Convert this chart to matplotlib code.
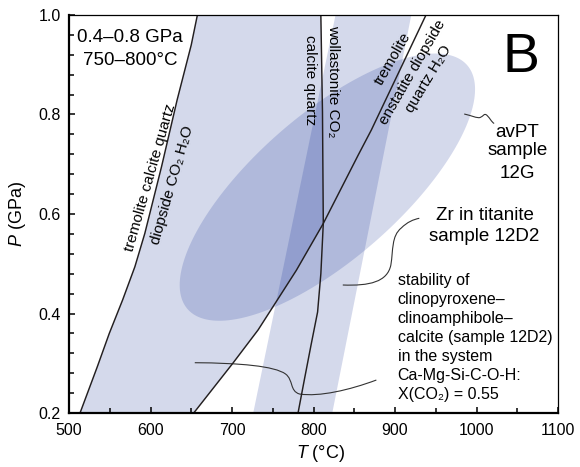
import numpy as np
import matplotlib
matplotlib.use("Agg")
import matplotlib.pyplot as plt
from matplotlib.path import Path
from matplotlib.patches import PathPatch, Polygon
from matplotlib.ticker import MultipleLocator, FixedLocator

plt.rcParams['font.family'] = ['Liberation Sans', 'DejaVu Sans']
plt.rcParams['mathtext.fontset'] = 'custom'
plt.rcParams['mathtext.it'] = 'Liberation Sans:italic'
plt.rcParams['mathtext.rm'] = 'Liberation Sans'

# reaction curves, T (°C) against P (GPa)
# tremolite + calcite + quartz = diopside + CO2 + H2O
tcq_T = [513.5, 534.7, 549.4, 565.7, 580.8, 593.0, 613.5, 632.6, 650.0, 657.5]
tcq_P = [0.200, 0.293, 0.360, 0.427, 0.494, 0.561, 0.695, 0.829, 0.940, 1.000]
# tremolite = enstatite + diopside + quartz + H2O
ten_T = [653, 701, 732, 779, 812, 855, 871, 909, 938]
ten_P = [0.200, 0.300, 0.367, 0.487, 0.581, 0.719, 0.769, 0.900, 1.000]
# calcite + quartz = wollastonite + CO2
wo_T = [781, 789, 797, 805, 809, 812, 811, 809]
wo_P = [0.200, 0.269, 0.337, 0.403, 0.480, 0.581, 0.805, 1.000]
P_cross = 0.581

# Zr-in-titanite band (sample 12D2): T limits at 0.2 and 1.0 GPa
zr_P = [0.2, 1.0]
zr_Tmin = [726, 827]
zr_Tmax = [823, 920]

# avPT result (sample 12G): centre and half-axis vectors (T, P)
avpt_c = (817.0, 0.654)
avpt_major = (171.6, 0.245)
avpt_minor = (-58.2, 0.110)

FILL = (0.0, 30 / 255, 142 / 255)
ALPHA = 0.17
LINE = '#231f20'

fig = plt.figure(figsize=(5.8, 4.67), dpi=100)
ax = fig.add_axes([0.119, 0.1156, 0.8431, 0.8523])
ax.set_xlim(500, 1100)
ax.set_ylim(0.2, 1.0)

# stability field of cpx-amphibole-calcite
left = list(zip(tcq_T, tcq_P))
right_top = [(t, p) for t, p in zip(wo_T, wo_P) if p >= P_cross][::-1]
right_low = [(t, p) for t, p in zip(ten_T, ten_P) if p <= P_cross][::-1]
field = left + right_top + right_low
ax.add_patch(Polygon(field, closed=True, facecolor=FILL, alpha=ALPHA, lw=0))

# Zr in titanite band
band = [(zr_Tmin[0], zr_P[0]), (zr_Tmax[0], zr_P[0]),
        (zr_Tmax[1], zr_P[1]), (zr_Tmin[1], zr_P[1])]
ax.add_patch(Polygon(band, closed=True, facecolor=FILL, alpha=ALPHA, lw=0))

# avPT ellipse
t = np.linspace(0, 2 * np.pi, 300)
eT = avpt_c[0] + np.cos(t) * avpt_major[0] + np.sin(t) * avpt_minor[0]
eP = avpt_c[1] + np.cos(t) * avpt_major[1] + np.sin(t) * avpt_minor[1]
ax.fill(eT, eP, color=FILL, alpha=ALPHA, lw=0)

# reaction lines
for T, P in [(tcq_T, tcq_P), (ten_T, ten_P), (wo_T, wo_P)]:
    ax.plot(T, P, color=LINE, lw=1.05, solid_joinstyle='round')

# leader lines (bezier)
def leader(pts):
    codes = [Path.MOVETO] + [Path.CURVE4] * (len(pts) - 1)
    ax.add_patch(PathPatch(Path(pts, codes), fill=False, ec='#333333', lw=0.8))

leader([(654.3, 0.3011), (709.4, 0.3005), (752.2, 0.2945), (765.7, 0.2784),
        (775.5, 0.2663), (770.6, 0.2442), (782.8, 0.2382),
        (807.3, 0.2322), (844.1, 0.2462), (877.1, 0.2663)])
leader([(835.9, 0.4573), (868.6, 0.4553), (890.6, 0.4633), (894.9, 0.4975),
        (897.9, 0.5276), (895.5, 0.5558), (907.7, 0.5719),
        (915.1, 0.5839), (922.4, 0.5889), (929.8, 0.5914)])
leader([(984.9, 0.8010), (993.4, 0.7980), (1000.8, 0.7920), (1004.5, 0.7940),
        (1008.1, 0.7960), (1009.4, 0.8040), (1013.0, 0.7980),
        (1016.7, 0.7920), (1018.0, 0.7859), (1021.6, 0.7819)])

# curve labels
rot_labels = [
    ("tremolite calcite quartz", 599.2, 0.6724, 74),
    ("diopside CO\u2082 H\u2082O", 626.7, 0.6583, 74),
    ("calcite quartz", 796.0, 0.8693, -90),
    ("wollastonite CO\u2082", 823.6, 0.8660, -90),
    ("tremolite", 897.1, 0.9116, 60),
    ("enstatite diopside", 921.6, 0.8846, 60),
    ("quartz H\u2082O", 941.2, 0.8714, 59),
]
for s, x, y, r in rot_labels:
    ax.text(x, y, s, rotation=r, rotation_mode='anchor', ha='center',
            va='center', fontsize=11)

ax.text(574.7, 0.946, "0.4\u20130.8 GPa", ha='center', va='baseline', fontsize=13.5)
ax.text(574.7, 0.8995, "750\u2013800°C", ha='center', va='baseline', fontsize=13.5)
ax.text(1054, 0.885, "B", ha='center', va='baseline', fontsize=40)

for s, y in [("avPT", 0.7554), ("sample", 0.7186), ("12G", 0.6718)]:
    ax.text(1050, y, s, ha='center', va='baseline', fontsize=13.5)
for s, y in [("Zr in titanite", 0.588), ("sample 12D2", 0.5463)]:
    ax.text(1010, y, s, ha='center', va='baseline', fontsize=13.5)

note = ["stability of", "clinopyroxene\u2013", "clinoamphibole\u2013",
        "calcite (sample 12D2)", "in the system", "Ca-Mg-Si-C-O-H:",
        "X(CO\u2082) = 0.55"]
for i, s in enumerate(note):
    ax.text(903.2, 0.4573 - i * 0.0383, s, ha='left', va='baseline', fontsize=11.5)

# axes styling
ax.xaxis.set_major_locator(FixedLocator(np.arange(500, 1101, 100)))
ax.xaxis.set_minor_locator(MultipleLocator(50))
ax.yaxis.set_major_locator(FixedLocator([0.2, 0.4, 0.6, 0.8, 1.0]))
ax.yaxis.set_minor_locator(FixedLocator(np.arange(0.2, 1.001, 0.04)))
ax.set_yticklabels(["0.2", "0.4", "0.6", "0.8", "1.0"])
ax.tick_params(which='major', direction='in', length=4.5, width=1.1,
               labelsize=11.5, top=False, right=False)
ax.tick_params(which='minor', direction='in', length=3.6, width=1.1,
               top=False, right=False)
ax.tick_params(axis='x', which='major', pad=7)
ax.tick_params(axis='y', which='major', pad=6)
for side in ['left', 'bottom']:
    ax.spines[side].set_linewidth(1.6)
for side in ['top', 'right']:
    ax.spines[side].set_linewidth(0.9)

ax.set_xlabel(r"$T$ (°C)", fontsize=13)
ax.set_ylabel(r"$P$ (GPa)", fontsize=13)
ax.xaxis.set_label_coords(0.515, -0.075)
ax.yaxis.set_label_coords(-0.083, 0.5)

fig.savefig("out.png", dpi=100)
